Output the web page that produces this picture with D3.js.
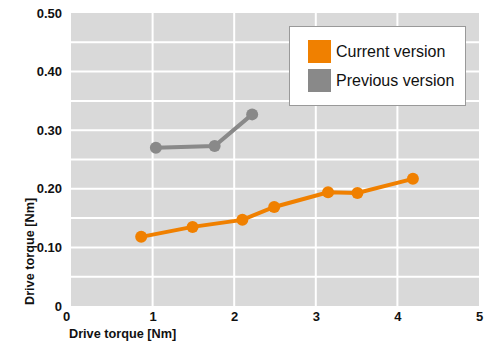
<!DOCTYPE html>
<html>
<head>
<meta charset="utf-8">
<script src="https://cdn.jsdelivr.net/npm/d3@7"></script>
<style>
  body { margin: 0; background: #fff; }
  svg { display: block; font-family: "Liberation Sans", Arial, sans-serif; }
</style>
</head>
<body>
<svg id="chart" width="494" height="350"></svg>
<script>
// data
const currentX = [0.86, 1.49, 2.10, 2.49, 3.15, 3.51, 4.19]
const currentY = [0.118, 0.135, 0.147, 0.169, 0.194, 0.193, 0.217]
const previousX = [1.04, 1.76, 2.22]
const previousY = [0.270, 0.273, 0.327]
const xTicks = [0, 1, 2, 3, 4, 5]
const yTicks = [0, 0.10, 0.20, 0.30, 0.40, 0.50]
const yGrid = [0.05, 0.10, 0.15, 0.20, 0.25, 0.30, 0.35, 0.40, 0.45]
const seriesNames = ['Current version', 'Previous version']
const seriesColors = ['#f08000', '#898989']

const svg = d3.select('#chart')
const plotL = 71, plotR = 479, plotT = 13, plotB = 306

const x = d3.scaleLinear().domain([0, 5]).range([plotL, plotR])
const y = d3.scaleLinear().domain([0, 0.5]).range([plotB, plotT])

// plot background
svg.append('rect')
    .attr('x', plotL).attr('y', plotT)
    .attr('width', plotR - plotL).attr('height', plotB - plotT)
    .attr('fill', '#d9d9d9')

// grid
const grid = svg.append('g').attr('stroke', '#fff').attr('stroke-width', 2)
grid.selectAll('.gx')
    .data(xTicks.slice(1, -1))
    .enter().append('line')
    .attr('x1', d => x(d)).attr('x2', d => x(d))
    .attr('y1', plotT).attr('y2', plotB)
grid.selectAll('.gy')
    .data(yGrid)
    .enter().append('line')
    .attr('x1', plotL).attr('x2', plotR)
    .attr('y1', d => y(d)).attr('y2', d => y(d))

// axes (labels only)
const yAxis = svg.append('g')
    .attr('transform', `translate(${plotL},0)`)
    .call(d3.axisLeft(y).tickValues(yTicks).tickSize(0).tickPadding(9)
        .tickFormat(d => d === 0 ? '0' : d3.format('.2f')(d)))
yAxis.select('.domain').remove()
yAxis.selectAll('text')
    .attr('font-size', 13).attr('font-weight', 'bold').attr('fill', '#111')
    .attr('font-family', '"Liberation Sans", Arial, sans-serif')

const xAxis = svg.append('g')
    .attr('transform', `translate(0,${plotB})`)
    .call(d3.axisBottom(x).tickValues(xTicks).tickSize(0).tickPadding(6)
        .tickFormat(d3.format('d')))
xAxis.select('.domain').remove()
xAxis.selectAll('text')
    .attr('font-size', 13).attr('font-weight', 'bold').attr('fill', '#111')
    .attr('font-family', '"Liberation Sans", Arial, sans-serif')
xAxis.selectAll('.tick').filter(d => d === 0).select('text')
    .attr('dx', '-5')

// axis titles
svg.append('text')
    .attr('x', 69).attr('y', 338)
    .attr('font-size', 12.7).attr('font-weight', 'bold').attr('fill', '#111')
    .text('Drive torque [Nm]')
svg.append('text')
    .attr('transform', 'translate(34,305) rotate(-90)')
    .attr('font-size', 12.7).attr('font-weight', 'bold').attr('fill', '#111')
    .text('Drive torque [Nm]')

// series
const series = [
    {xs: currentX, ys: currentY, color: seriesColors[0]},
    {xs: previousX, ys: previousY, color: seriesColors[1]}
]
const line = d3.line().x(d => x(d[0])).y(d => y(d[1]))

series.forEach(s => {
    const pts = s.xs.map((v, i) => [v, s.ys[i]])
    svg.append('path')
        .datum(pts)
        .attr('d', line)
        .attr('fill', 'none')
        .attr('stroke', s.color)
        .attr('stroke-width', 4)
    svg.selectAll(null)
        .data(pts)
        .enter().append('circle')
        .attr('cx', d => x(d[0]))
        .attr('cy', d => y(d[1]))
        .attr('r', 6)
        .attr('fill', s.color)
})

// legend
const legend = svg.append('g')
legend.append('rect')
    .attr('x', 289.5).attr('y', 26.5)
    .attr('width', 176).attr('height', 79)
    .attr('fill', '#fff').attr('stroke', '#999').attr('stroke-width', 1)
seriesNames.forEach((name, i) => {
    legend.append('rect')
        .attr('x', 308).attr('y', 40 + i * 29)
        .attr('width', 23).attr('height', 23)
        .attr('fill', seriesColors[i])
    legend.append('text')
        .attr('x', 336).attr('y', 57 + i * 29)
        .attr('font-size', 16).attr('fill', '#111')
        .text(name)
})
</script>
</body>
</html>
